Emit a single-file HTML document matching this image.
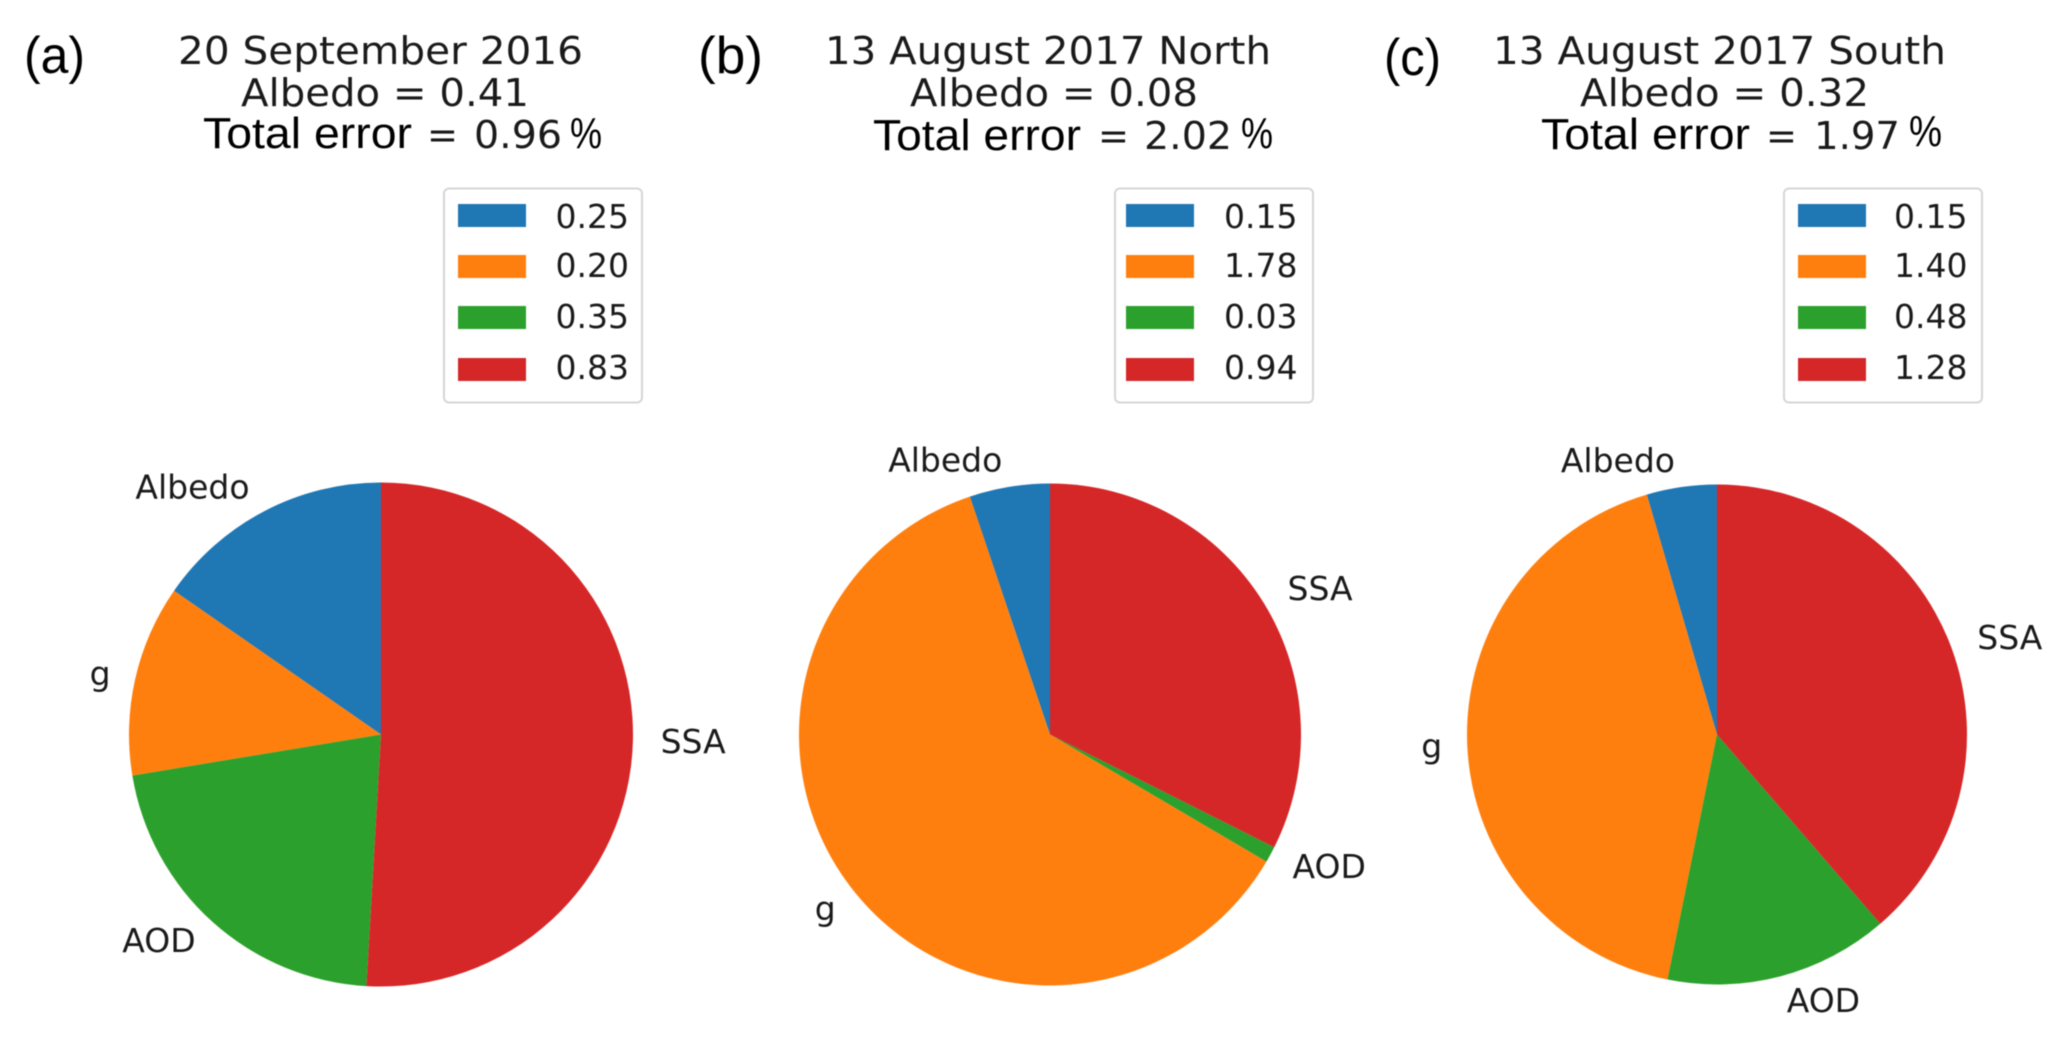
<!DOCTYPE html>
<html>
<head>
<meta charset="utf-8">
<title>Error contribution pie charts</title>
<style>
html,body{margin:0;padding:0;background:#fff;width:2068px;height:1039px;overflow:hidden}
svg{display:block;filter:blur(0.6px)}
.t{font-family:"DejaVu Sans","Liberation Sans",sans-serif;fill:#1a1a1a}
.c{font-family:"Liberation Sans",sans-serif;fill:#000}
</style>
</head>
<body>
<svg id="chart" xmlns="http://www.w3.org/2000/svg" width="2068" height="1039" viewBox="0 0 2068 1039">
<rect width="2068" height="1039" fill="#fff"/>
<text class="c" x="24" y="73" font-size="52" textLength="61" lengthAdjust="spacingAndGlyphs">(a)</text>
<text class="t" x="178" y="64" font-size="38" textLength="405" lengthAdjust="spacingAndGlyphs">20 September 2016</text>
<text class="t" x="241" y="106" font-size="38" textLength="288" lengthAdjust="spacingAndGlyphs">Albedo = 0.41</text>
<text class="c" x="203" y="148" font-size="44" textLength="209" lengthAdjust="spacingAndGlyphs">Total error</text>
<text class="t" x="427" y="148" font-size="38" textLength="31" lengthAdjust="spacingAndGlyphs">=</text>
<text class="t" x="474" y="148" font-size="38" textLength="88" lengthAdjust="spacingAndGlyphs">0.96</text>
<text class="c" x="570" y="148" font-size="44" textLength="32" lengthAdjust="spacingAndGlyphs">%</text>

<text class="c" x="698" y="73" font-size="52" textLength="65" lengthAdjust="spacingAndGlyphs">(b)</text>
<text class="t" x="825" y="64" font-size="38" textLength="446" lengthAdjust="spacingAndGlyphs">13 August 2017 North</text>
<text class="t" x="910" y="106" font-size="38" textLength="288" lengthAdjust="spacingAndGlyphs">Albedo = 0.08</text>
<text class="c" x="873" y="150" font-size="44" textLength="208" lengthAdjust="spacingAndGlyphs">Total error</text>
<text class="t" x="1098" y="149" font-size="38" textLength="31" lengthAdjust="spacingAndGlyphs">=</text>
<text class="t" x="1144" y="149" font-size="38" textLength="88" lengthAdjust="spacingAndGlyphs">2.02</text>
<text class="c" x="1241" y="148" font-size="44" textLength="32" lengthAdjust="spacingAndGlyphs">%</text>

<text class="c" x="1384" y="75" font-size="52" textLength="57" lengthAdjust="spacingAndGlyphs">(c)</text>
<text class="t" x="1493" y="64" font-size="38" textLength="453" lengthAdjust="spacingAndGlyphs">13 August 2017 South</text>
<text class="t" x="1580" y="106" font-size="38" textLength="289" lengthAdjust="spacingAndGlyphs">Albedo = 0.32</text>
<text class="c" x="1541" y="149" font-size="44" textLength="209" lengthAdjust="spacingAndGlyphs">Total error</text>
<text class="t" x="1766" y="149" font-size="38" textLength="31" lengthAdjust="spacingAndGlyphs">=</text>
<text class="t" x="1814" y="149" font-size="38" textLength="86" lengthAdjust="spacingAndGlyphs">1.97</text>
<text class="c" x="1909" y="146" font-size="44" textLength="33" lengthAdjust="spacingAndGlyphs">%</text>
</svg>
<script>
var categories = ['Albedo', 'g', 'AOD', 'SSA'];
var panelIds = ['a', 'b', 'c'];
var valuesA = [0.25, 0.20, 0.35, 0.83];
var valuesB = [0.15, 1.78, 0.03, 0.94];
var valuesC = [0.15, 1.40, 0.48, 1.28];

var seriesByPanel = [valuesA, valuesB, valuesC];
var colors = ['#1f77b4', '#ff7f0e', '#2ca02c', '#d62728'];
var svgNS = 'http://www.w3.org/2000/svg';
var svg = document.getElementById('chart');
var pieLayouts = [
  {cx: 381, cy: 734.5, r: 252},
  {cx: 1050, cy: 734.5, r: 251},
  {cx: 1717, cy: 734.5, r: 250}
];
var legendLayouts = [
  {x: 444, sw: 458, tx: 555.5},
  {x: 1115, sw: 1126, tx: 1224},
  {x: 1784, sw: 1798, tx: 1894}
];
var swatchTops = [204, 255, 306, 358];
var legendBaselines = [228, 277, 328, 379];
var labelNudgeX = {Albedo: -3, g: 0, AOD: 0, SSA: 2.5};
var labelNudgeY = {Albedo: -2, g: 0, AOD: 0, SSA: -1};

function make(tag, attrs, parent) {
  var el = document.createElementNS(svgNS, tag);
  for (var k in attrs) { el.setAttribute(k, attrs[k]); }
  parent.appendChild(el);
  return el;
}

function angleAt(share) {
  return Math.PI / 2 + share * 2 * Math.PI;
}

function pointAt(layout, angle, scale) {
  return {
    x: layout.cx + scale * layout.r * Math.cos(angle),
    y: layout.cy - scale * layout.r * Math.sin(angle)
  };
}

function drawPie(p) {
  var vals = seriesByPanel[p];
  var layout = pieLayouts[p];
  var total = vals.reduce(function (a, b) { return a + b; }, 0);
  var cum = 0;
  var group = make('g', {}, svg);
  
  
  vals.forEach(function (v, i) {
    var s = cum / total;
    var e = (cum + v) / total;
    cum += v;
    var a0 = angleAt(s), a1 = angleAt(e), mid = angleAt((s + e) / 2);
    var p0 = pointAt(layout, a0, 1), p1 = pointAt(layout, a1, 1);
    var large = (e - s) > 0.5 ? 1 : 0;
    var d = 'M' + layout.cx + ' ' + layout.cy + 'L' + p0.x + ' ' + p0.y +
      'A' + layout.r + ' ' + layout.r + ' 0 ' + large + ' 0 ' + p1.x + ' ' + p1.y + 'Z';
    var slice = make('path', {d: d, fill: colors[i]}, group);
    
    
    var lp = pointAt(layout, mid, 1.1);
    var label = make('text', {
      x: lp.x + labelNudgeX[categories[i]], y: lp.y + labelNudgeY[categories[i]],
      'class': 't', 'font-size': 33,
      'text-anchor': lp.x >= layout.cx ? 'start' : 'end',
      'dominant-baseline': 'central'
    }, group);
    
    
    label.textContent = categories[i];
  });
}

function drawLegend(p) {
  var vals = seriesByPanel[p];
  var layout = legendLayouts[p];
  var group = make('g', {}, svg);
  
  
  var frame = make('rect', {
    x: layout.x, y: 188.5, width: 198, height: 214, rx: 5, ry: 5,
    fill: '#fff', stroke: '#d6d6d6', 'stroke-width': 2
  }, group);
  
  
  vals.forEach(function (v, i) {
    var sw = make('rect', {x: layout.sw, y: swatchTops[i], width: 68, height: 23, fill: colors[i]}, group);
    
    
    var txt = make('text', {x: layout.tx, y: legendBaselines[i], 'class': 't', 'font-size': 33}, group);
    
    
    txt.textContent = v.toFixed(2);
  });
}

panelIds.forEach(function (id, p) {
  drawLegend(p);
  drawPie(p);
});
</script>
</body>
</html>
